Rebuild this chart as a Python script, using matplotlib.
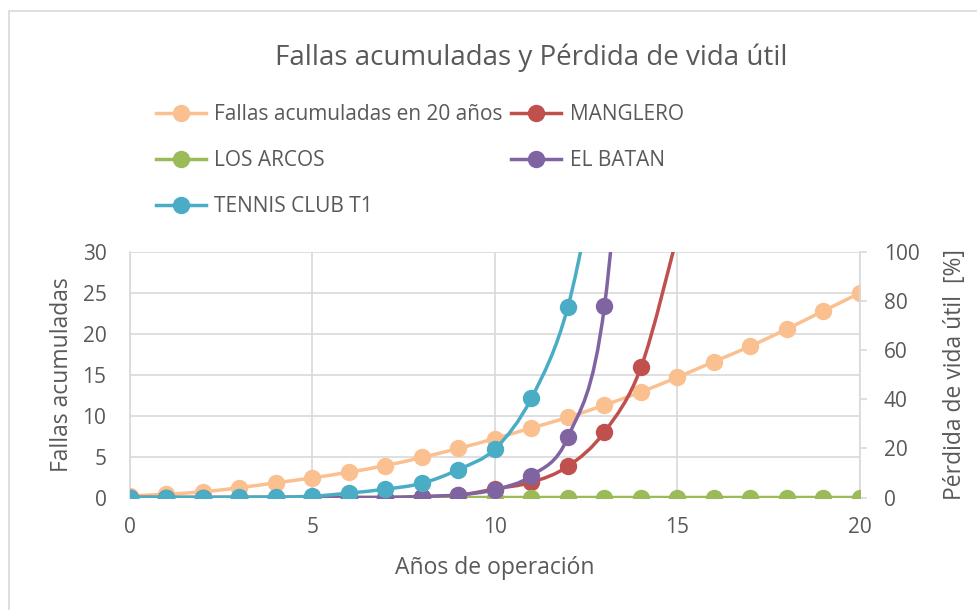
import numpy as np
import matplotlib
matplotlib.use("Agg")
import matplotlib.pyplot as plt
from matplotlib.path import Path
from matplotlib.patches import PathPatch, Rectangle
from matplotlib.lines import Line2D

plt.rcParams['font.family'] = ['Open Sans', 'DejaVu Sans']

# data
years = list(range(0, 21))
fallas = [0.2, 0.4, 0.7, 1.2, 1.8, 2.4, 3.1, 3.9, 4.9, 6.0, 7.2,
          8.5, 9.8, 11.3, 12.9, 14.7, 16.6, 18.5, 20.6, 22.8, 25.0]

years_manglero = list(range(0, 16))
manglero = [0, 0, 0, 0, 0, 0, 0, 0, 0.3, 0.9, 3.5, 6.2, 12.7, 26.7, 53.0, 107.0]

years_arcos = list(range(0, 21))
los_arcos = [0] * 21

years_batan = list(range(0, 15))
el_batan = [0, 0, 0, 0, 0, 0, 0, 0, 0.4, 1.1, 3.2, 8.9, 24.6, 78.0, 250.0]

years_tennis = list(range(0, 14))
tennis = [0, 0, 0, 0.1, 0.2, 0.5, 1.8, 3.4, 5.8, 11.4, 19.8, 40.5, 77.8, 150.0]

labels = ['Fallas acumuladas en 20 años', 'MANGLERO', 'LOS ARCOS',
          'EL BATAN', 'TENNIS CLUB T1']
colors = ['#FAC090', '#C0504D', '#9BBB59', '#8064A2', '#4BACC6']
text_color = '#595959'
grid_color = '#D9D9D9'


def smooth_path(x, y):
    # bezier path through the points, like a spreadsheet "smoothed line"
    p = np.column_stack([x, y]).astype(float)
    n = len(p)
    verts = [p[0]]
    codes = [Path.MOVETO]
    for i in range(n - 1):
        p0 = p[i - 1] if i > 0 else p[i]
        p3 = p[i + 2] if i + 2 < n else p[i + 1]
        c1 = p[i] + (p[i + 1] - p0) / 6.0
        c2 = p[i + 1] - (p3 - p[i]) / 6.0
        verts += [c1, c2, p[i + 1]]
        codes += [Path.CURVE4] * 3
    return Path(verts, codes)


fig = plt.figure(figsize=(9.78, 6.10), dpi=100)
ax = fig.add_axes([130 / 978, 1 - 497.5 / 610, 730 / 978, 245.5 / 610])
ax2 = ax.twinx()

# chart border
fig.add_artist(Rectangle((9 / 978, -0.1), 1.2, 1 - 11 / 610 + 0.1,
                         transform=fig.transFigure, fill=False,
                         edgecolor=grid_color, linewidth=1.2))

lw = 2.5
ms = 11.5

series = [(ax, years, fallas), (ax2, years_manglero, manglero),
          (ax2, years_arcos, los_arcos), (ax2, years_batan, el_batan),
          (ax2, years_tennis, tennis)]
for k, (a, x, y) in enumerate(series):
    patch = PathPatch(smooth_path(x, y), fill=False, edgecolor=colors[k],
                      linewidth=lw, capstyle='round', zorder=3 + k)
    a.add_patch(patch)
    a.plot(x, y, 'o', color=colors[k], markersize=ms, zorder=3 + k,
           clip_on=True)

ax.set_xlim(0, 20)
ax.set_ylim(0, 30)
ax2.set_ylim(0, 100)
ax.set_xticks([0, 5, 10, 15, 20])
ax.set_yticks([0, 5, 10, 15, 20, 25, 30])
ax2.set_yticks([0, 20, 40, 60, 80, 100])

ax.grid(True, color=grid_color, linewidth=1.2)
ax.set_axisbelow(True)
for s in ['top', 'right', 'bottom']:
    ax.spines[s].set_visible(False)
ax.spines['left'].set_color(grid_color)
ax.spines['left'].set_linewidth(1.2)
for s in ['top', 'left', 'bottom']:
    ax2.spines[s].set_visible(False)
ax2.spines['right'].set_color(grid_color)
ax2.spines['right'].set_linewidth(1.2)

ax.tick_params(axis='y', length=0, labelsize=15, labelcolor=text_color, pad=17)
ax.tick_params(axis='x', length=0, labelsize=15, labelcolor=text_color, pad=14)
ax2.tick_params(axis='y', length=5, width=1.2, color=grid_color,
                labelsize=15, labelcolor=text_color, pad=12)

ax.set_xlabel('Años de operación', fontsize=16.5, color=text_color)
ax.set_ylabel('Fallas acumuladas', fontsize=16.5, color=text_color)
ax2.set_ylabel('Pérdida de vida útil  [%]', fontsize=16.5, color=text_color)
ax.xaxis.set_label_coords(365 / 730, (497.5 - 568) / 245.5)
ax.yaxis.set_label_coords((62 - 130) / 730, 0.5)
ax2.yaxis.set_label_coords((955 - 130) / 730, 0.5)
ax.xaxis.label.set_va('center')
ax.yaxis.label.set_va('center')
ax2.yaxis.label.set_va('center')

fig.text(531 / 978, 1 - 58 / 610, 'Fallas acumuladas y Pérdida de vida útil',
         ha='center', va='center', fontsize=20, color=text_color)

handles = [Line2D([], [], color=c, linewidth=lw, marker='o', markersize=ms)
           for c in colors]
order = [0, 2, 4, 1, 3]
fig.legend([handles[i] for i in order], [labels[i] for i in order],
           ncol=2, loc='upper left', bbox_to_anchor=(156 / 978, 1 - 104 / 610),
           frameon=False, fontsize=15, labelcolor=text_color,
           handlelength=2.4, handletextpad=0.4, columnspacing=0.4,
           labelspacing=1.2, borderaxespad=0, borderpad=0)

fig.savefig('out.png', dpi=100)
